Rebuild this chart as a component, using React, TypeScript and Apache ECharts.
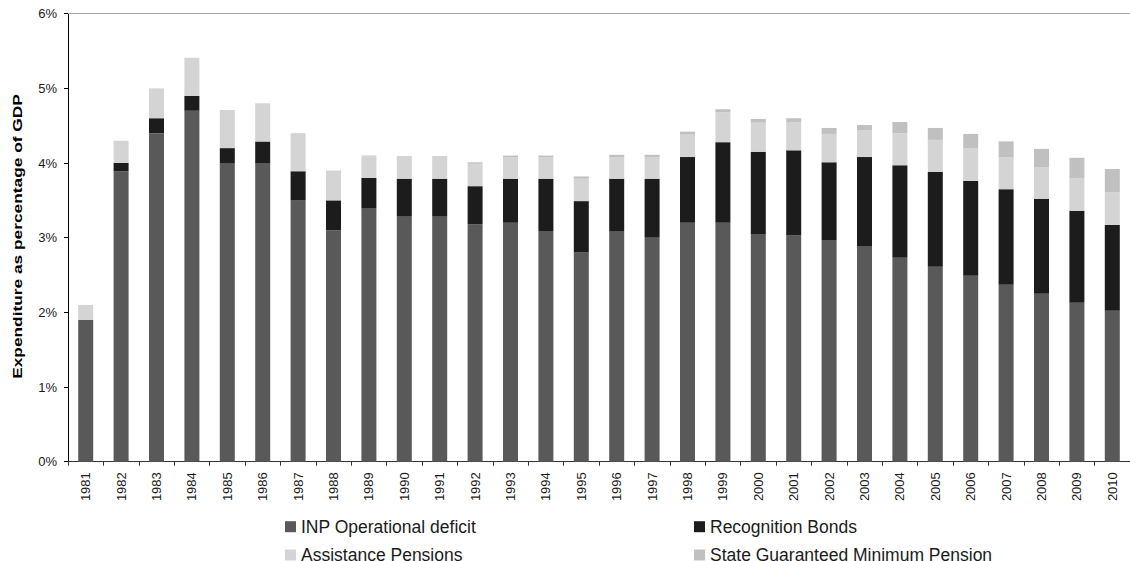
import React, { useEffect, useRef } from "react";
import * as echarts from "echarts";

const years = [
  "1981", "1982", "1983", "1984", "1985", "1986", "1987", "1988", "1989", "1990",
  "1991", "1992", "1993", "1994", "1995", "1996", "1997", "1998", "1999", "2000",
  "2001", "2002", "2003", "2004", "2005", "2006", "2007", "2008", "2009", "2010",
];

const inpDeficit = [
  1.9, 3.89, 4.4, 4.7, 4.0, 4.0, 3.5, 3.1, 3.39, 3.29,
  3.29, 3.18, 3.2, 3.09, 2.8, 3.09, 3.0, 3.2, 3.2, 3.05,
  3.03, 2.97, 2.89, 2.73, 2.61, 2.49, 2.37, 2.25, 2.13, 2.02,
];

const recognitionBonds = [
  0, 0.11, 0.2, 0.2, 0.2, 0.29, 0.39, 0.4, 0.41, 0.5,
  0.5, 0.51, 0.59, 0.7, 0.69, 0.7, 0.79, 0.88, 1.08, 1.1,
  1.14, 1.04, 1.19, 1.24, 1.27, 1.27, 1.28, 1.27, 1.23, 1.15,
];

const assistancePensions = [
  0.2, 0.3, 0.4, 0.51, 0.51, 0.51, 0.51, 0.4, 0.29, 0.29,
  0.29, 0.3, 0.29, 0.29, 0.3, 0.29, 0.29, 0.3, 0.4, 0.39,
  0.38, 0.38, 0.36, 0.43, 0.43, 0.44, 0.43, 0.42, 0.44, 0.44,
];

const stateGuaranteed = [
  0, 0, 0, 0, 0, 0, 0, 0, 0.01, 0.01,
  0.01, 0.02, 0.02, 0.02, 0.03, 0.03, 0.03, 0.04, 0.04, 0.05,
  0.05, 0.08, 0.07, 0.15, 0.16, 0.19, 0.21, 0.25, 0.27, 0.31,
];

const yTicks = [0, 1, 2, 3, 4, 5, 6];

const yTitle = "Expenditure as percentage of GDP";

const FONT = "'Liberation Sans', Arial, sans-serif";

export default function App() {
  const ref = useRef<HTMLDivElement>(null);

  useEffect(() => {
    if (!ref.current) return;
    const chart = echarts.init(ref.current, undefined, { renderer: "svg" });

    const legendText = { color: "#1a1a1a", fontSize: 17.5, fontFamily: FONT, lineHeight: 18 };
    const mkLegend = (name: string, left: number, top: number) => ({
      data: [name],
      left,
      top,
      padding: 0,
      itemWidth: 11,
      itemHeight: 11,
      itemGap: 0,
      icon: "rect",
      selectedMode: false,
      textStyle: legendText,
    });

    const mkSeries = (name: string, data: number[], color: string) => ({
      name,
      type: "bar",
      stack: "total",
      data,
      barWidth: 15,
      itemStyle: { color },
      emphasis: { disabled: true },
    });

    chart.setOption({
      animation: false,
      backgroundColor: "#ffffff",
      textStyle: { fontFamily: FONT },
      grid: { left: 68, top: 13.7, width: 1070, height: 448, containLabel: false },
      legend: [
        mkLegend("INP Operational deficit", 285, 517.7),
        mkLegend("Recognition Bonds", 694, 517.7),
        mkLegend("Assistance Pensions", 285, 546),
        mkLegend("State Guaranteed Minimum Pension", 694, 546),
      ],
      graphic: [
        {
          type: "text",
          x: 17.5,
          y: 236.5,
          rotation: Math.PI / 2,
          scaleX: 1.333,
          scaleY: 1,
          style: {
            text: yTitle,
            font: `bold 13px ${FONT}`,
            fill: "#000000",
            align: "center",
            verticalAlign: "middle",
          },
        },
      ],
      xAxis: [
        {
          type: "category",
          data: years,
          position: "bottom",
          axisLine: { lineStyle: { color: "#333333", width: 1 } },
          axisTick: { show: true, alignWithLabel: false, length: 4, lineStyle: { color: "#333333" } },
          axisLabel: {
            rotate: 90,
            margin: 10.5,
            color: "#1a1a1a",
            fontSize: 13,
            fontFamily: FONT,
            interval: 0,
          },
          splitLine: { show: false },
        },
        {
          type: "category",
          data: years,
          position: "top",
          axisLine: { lineStyle: { color: "#a6a6a6", width: 1 } },
          axisTick: { show: false },
          axisLabel: { show: false },
          splitLine: { show: false },
        },
      ],
      yAxis: {
        type: "value",
        min: yTicks[0],
        max: yTicks[yTicks.length - 1],
        interval: 1,
        axisLine: { show: true, lineStyle: { color: "#000000", width: 1 } },
        axisTick: { show: true, length: 4, lineStyle: { color: "#000000" } },
        axisLabel: {
          formatter: (v: number) => `${v}%`,
          margin: 11,
          color: "#1a1a1a",
          fontSize: 13,
          fontFamily: FONT,
        },
        splitLine: { show: false },
      },
      series: [
        mkSeries("INP Operational deficit", inpDeficit, "#595959"),
        mkSeries("Recognition Bonds", recognitionBonds, "#1c1c1c"),
        mkSeries("Assistance Pensions", assistancePensions, "#d4d4d4"),
        mkSeries("State Guaranteed Minimum Pension", stateGuaranteed, "#c0c0c0"),
      ],
    });

    return () => chart.dispose();
  }, []);

  return (
    <div
      ref={ref}
      style={{ position: "absolute", left: 0, top: 0, width: 1130, height: 561, overflow: "hidden" }}
    />
  );
}
